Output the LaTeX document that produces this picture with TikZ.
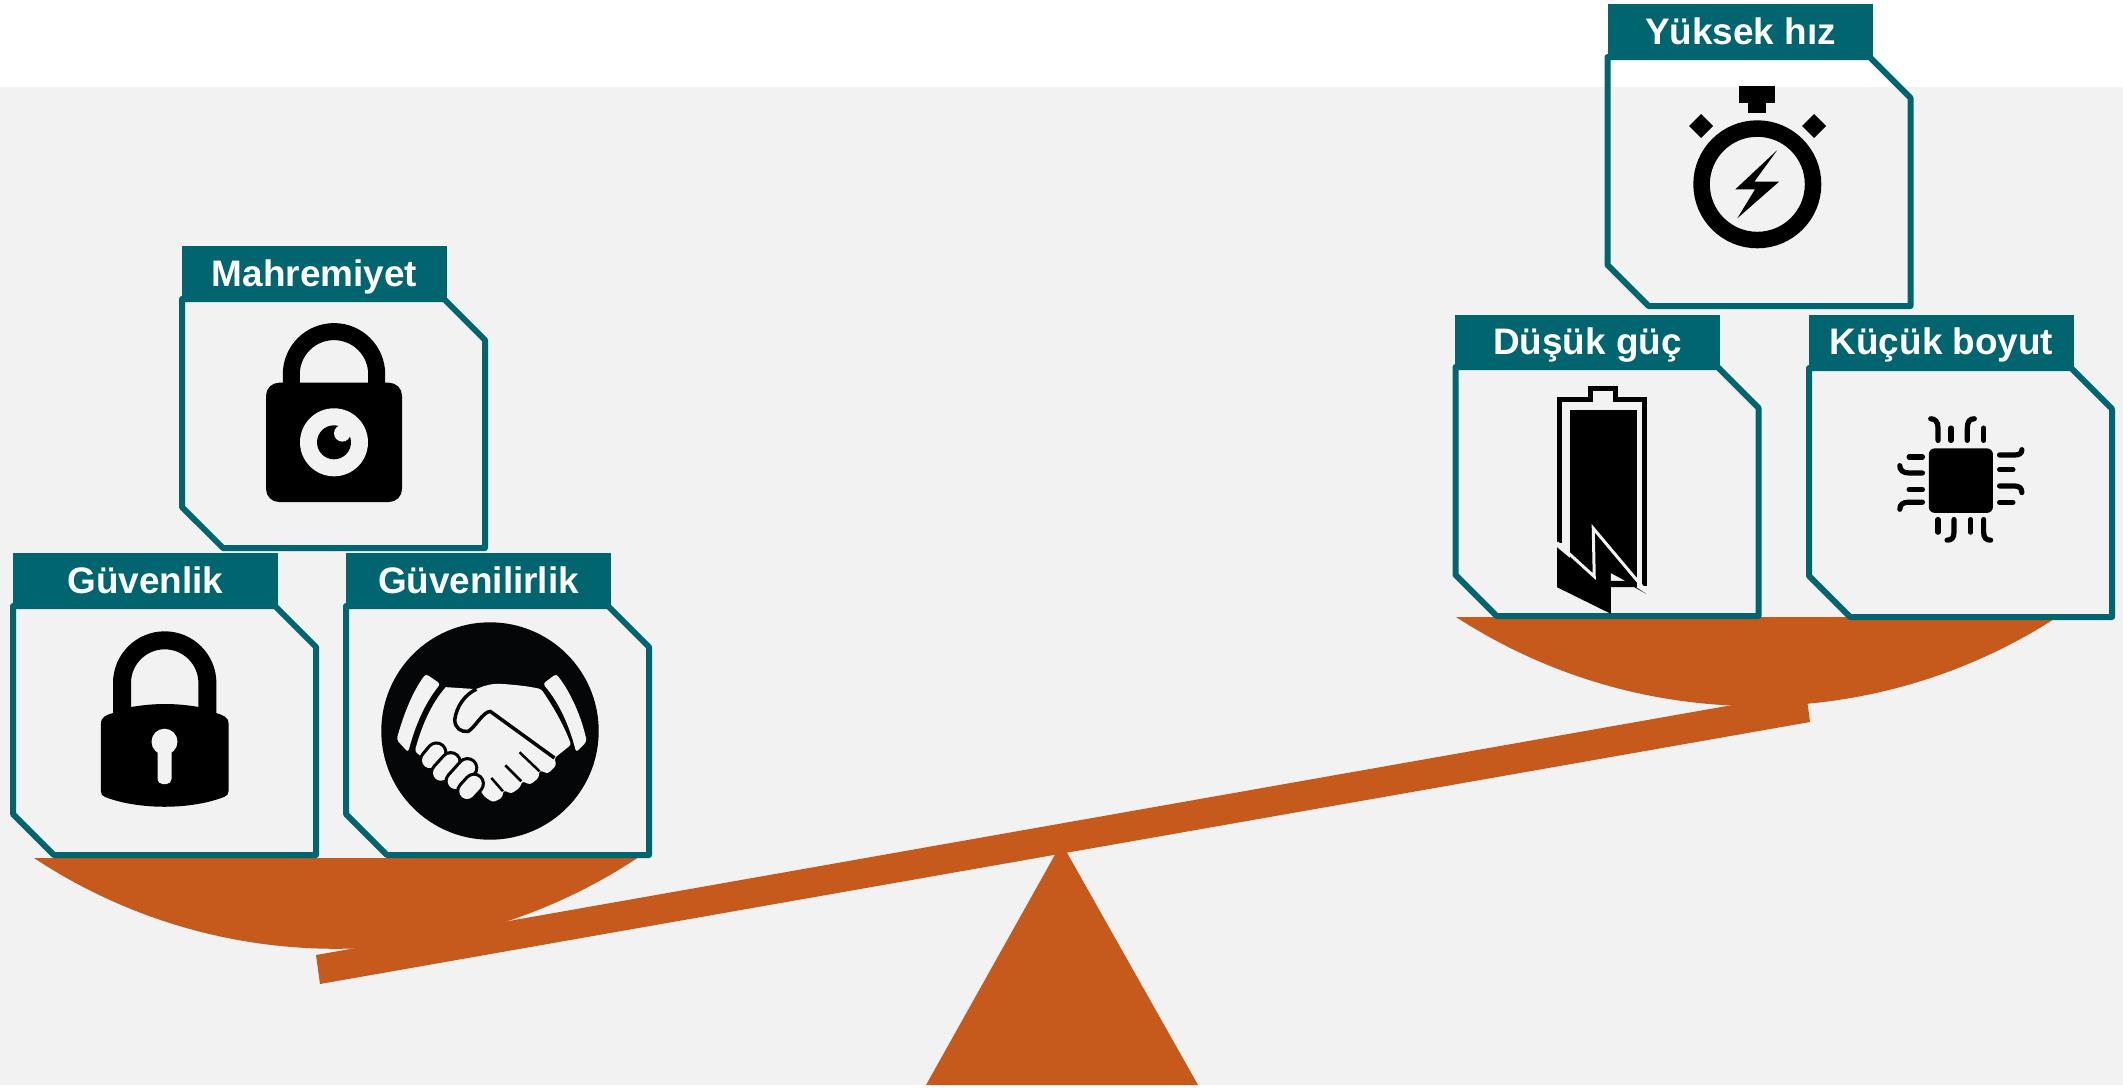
\documentclass[tikz,border=0pt]{standalone}
\usepackage{fontspec}
\setmainfont{Liberation Sans}
\usepackage{xcolor}
\definecolor{panelgray}{HTML}{F2F2F2}
\definecolor{headteal}{HTML}{00656F}
\definecolor{scaleorange}{HTML}{C65A1C}
\definecolor{shakeblack}{HTML}{050608}
\newcommand{\cardframe}[1]{\draw[frame] (#1.north west) -- ([xshift=-.41cm]#1.north east) -- ([yshift=-.41cm]#1.north east)
  -- (#1.south east) -- ([xshift=.41cm]#1.south west) -- ([yshift=.41cm]#1.south west) -- cycle;}

\begin{document}
\begin{tikzpicture}[
  card/.style={minimum width=3.03cm,minimum height=2.49cm,inner sep=0pt,outer sep=0pt},
  frame/.style={draw=headteal,line width=.06cm,line join=round},
  hdr/.style={fill=headteal,text=white,minimum width=2.65cm,minimum height=.55cm,inner sep=0pt,outer sep=0pt,
    text height=.28cm,text depth=.03cm,font=\fontsize{10.5}{12}\selectfont\bfseries},
  pin/.style={line width=.052cm,line cap=round},
  finger/.style={draw=shakeblack,double=panelgray,double distance=.155cm,line width=.032cm,line cap=round}
]
\useasboundingbox (0,0) rectangle (21.23,10.87);
\fill[panelgray] (0,.02) rectangle (21.23,10);

% scale
\fill[scaleorange] (.34,2.29) arc[start angle=236.5,end angle=303.5,radius=5.466];
\fill[scaleorange] (14.56,4.70) arc[start angle=237,end angle=303,radius=5.52];
\fill[scaleorange] (3.16,1.32) -- (3.20,1.03) -- (18.10,3.65) -- (18.06,3.95) -- cycle;
\fill[scaleorange] (9.26,.02) -- (11.98,.02) -- (10.615,2.44) -- cycle;

% cards
\node[card] (mahcard) at (3.335,6.635) {};
\cardframe{mahcard}
\node[hdr]  (mahhdr)  at (3.145,8.135) {Mahremiyet};
\node[card] (guvcard) at (1.645,3.565) {};
\cardframe{guvcard}
\node[hdr]  (guvhdr)  at (1.455,5.065) {Güvenlik};
\node[card] (relcard) at (4.975,3.565) {};
\cardframe{relcard}
\node[hdr]  (relhdr)  at (4.785,5.065) {Güvenilirlik};
\node[card] (hizcard) at (17.59,9.055) {};
\cardframe{hizcard}
\node[hdr]  (hizhdr)  at (17.405,10.555) {Yüksek hız};
\node[card] (guccard) at (16.07,5.955) {};
\cardframe{guccard}
\node[hdr]  (guchdr)  at (15.875,7.45) {Düşük güç};
\node[card] (boycard) at (19.605,5.945) {};
\cardframe{boycard}
\node[hdr]  (boyhdr)  at (19.415,7.45) {Küçük boyut};

% privacy lock
\fill[black,rounded corners=.13cm] (2.66,5.85) rectangle (4.02,7.043);
\draw[line width=.17cm] (2.913,7.0) -- (2.913,7.127) arc[start angle=180,end angle=0,radius=.427] -- (3.767,7.0);
\fill[panelgray] (3.34,6.447) circle (.34);
\fill[black] (3.34,6.447) circle (.17);
\fill[panelgray] (3.423,6.537) circle (.083);

% security lock
\fill[black] (1.009,3.63) .. controls (1.009,3.70) and (1.06,3.72) .. (1.13,3.74) -- (1.31,3.80)
  .. controls (1.55,3.84) and (1.75,3.84) .. (1.99,3.80) -- (2.16,3.74)
  .. controls (2.23,3.72) and (2.286,3.70) .. (2.286,3.63) -- (2.286,2.96)
  .. controls (2.286,2.93) and (2.27,2.91) .. (2.24,2.90)
  .. controls (1.9,2.77) and (1.39,2.77) .. (1.05,2.90)
  .. controls (1.02,2.91) and (1.009,2.93) .. (1.009,2.96) -- cycle;
\draw[line width=.18cm] (1.22,3.72) -- (1.22,4.04) arc[start angle=180,end angle=0,radius=.427] -- (2.074,3.72);
\fill[panelgray] (1.645,3.453) circle (.13);
\fill[panelgray,rounded corners=.05cm] (1.575,3.45) rectangle (1.715,3.03);

% handshake
\fill[shakeblack] (4.90,3.56) circle (1.087);
\begin{scope}[shift={(3.4,4.87)},x=.003333cm,y=-.003333cm]
  \fill[panelgray,rounded corners=.03cm] (258,222) .. controls (215,280) and (190,350) .. (170,420) -- (205,458)
    .. controls (225,380) and (255,310) .. (302,252) -- cycle;
  \fill[panelgray,rounded corners=.03cm] (650,222) .. controls (695,280) and (725,350) .. (742,425) -- (710,458)
    .. controls (690,380) and (660,310) .. (610,252) -- cycle;
  \fill[panelgray,rounded corners=.025cm] (318,262) -- (410,268) .. controls (440,255) and (460,252) .. (480,252)
    .. controls (530,255) and (570,260) .. (605,268) .. controls (640,320) and (670,370) .. (695,435)
    -- (645,475) -- (650,497) -- (625,522) -- (600,512) -- (597,535) -- (572,555) -- (548,545) -- (540,565)
    -- (515,582) -- (492,572) -- (487,595) -- (460,608) -- (435,592) -- (420,570) -- (400,520) -- (300,440)
    -- (250,475) -- (225,455) .. controls (245,380) and (275,310) .. (318,262);
  \draw[shakeblack,line width=.035cm] (410,268) .. controls (375,285) and (350,320) .. (345,360)
    .. controls (345,385) and (365,398) .. (385,395) .. controls (405,385) and (430,335) .. (452,335) -- (645,475);
  \draw[shakeblack,line width=.025cm] (540,458) -- (600,515);
  \draw[shakeblack,line width=.025cm] (497,497) -- (545,545);
  \draw[shakeblack,line width=.025cm] (455,535) -- (490,575);
  \draw[finger] (270,482) -- (290,458);
  \draw[finger] (303,520) -- (333,487);
  \draw[finger] (347,545) -- (383,505);
  \draw[finger] (382,575) -- (403,552);
\end{scope}

% stopwatch
\draw[line width=.165cm] (17.573,9.027) circle (.5575);
\fill[black] (17.39,10.013) rectangle (17.753,9.837);
\fill[black] (17.483,9.84) rectangle (17.66,9.737);
\fill[black] (16.89,9.61) -- (17.01,9.73) -- (17.13,9.61) -- (17.01,9.49) -- cycle;
\fill[black] (18.02,9.61) -- (18.14,9.73) -- (18.26,9.61) -- (18.14,9.49) -- cycle;
\fill[black] (17.773,9.37) -- (17.353,8.977) -- (17.55,8.977) -- (17.373,8.687) -- (17.79,9.053) -- (17.543,9.053) -- cycle;

% battery
\begin{scope}[shift={(15.45,5.77)},x=.003333cm,y=-.003333cm]
  \draw[line width=.05cm,line join=miter] (42,100) -- (42,-333) -- (136,-333) -- (136,-365) -- (212,-365) -- (212,-333) -- (300,-333) -- (300,228);
  \fill[black] (75,-302) rectangle (278,232);
  \fill[black] (36,112) -- (150,207) -- (198,207) -- (198,312) -- (36,232) -- cycle;
  \fill[panelgray] (198,190) -- (240,213) -- (198,213) -- cycle;
  \fill[black] (198,213) -- (245,213) -- (304,252) -- (268,232) -- (198,232) -- cycle;
  \draw[panelgray,line width=.03cm,line join=miter] (36,98) -- (148,200) -- (145,55) -- (303,243);
\end{scope}

% chip
\begin{scope}[shift={(18,7.77)},x=.003333cm,y=-.003333cm]
  \fill[black,rounded corners=.06cm] (387,416) rectangle (580,610);
  \draw[pin] (415,392) -- (415,355) .. controls (415,335) and (405,327) .. (393,327);
  \draw[pin] (454,392) -- (454,355);
  \draw[pin] (503,392) -- (503,355) .. controls (503,335) and (510,327) .. (524,327);
  \draw[pin] (552,392) -- (552,355);
  \draw[pin] (600,436) -- (645,436) .. controls (660,436) and (667,430) .. (667,420);
  \draw[pin] (600,480) -- (640,480);
  \draw[pin] (600,529) -- (645,529) .. controls (660,529) and (667,537) .. (667,549);
  \draw[pin] (600,578) -- (640,578);
  \draw[pin] (415,630) -- (415,668);
  \draw[pin] (463,630) -- (463,668) .. controls (463,685) and (455,692) .. (442,692);
  \draw[pin] (513,630) -- (513,668);
  \draw[pin] (552,630) -- (552,668) .. controls (552,685) and (560,692) .. (573,692);
  \draw[pin] (368,442) -- (328,442);
  \draw[pin] (368,490) -- (328,490) .. controls (310,490) and (300,482) .. (300,468);
  \draw[pin] (368,540) -- (328,540);
  \draw[pin] (368,578) -- (325,578) .. controls (310,578) and (300,585) .. (300,599);
\end{scope}
\end{tikzpicture}
\end{document}
